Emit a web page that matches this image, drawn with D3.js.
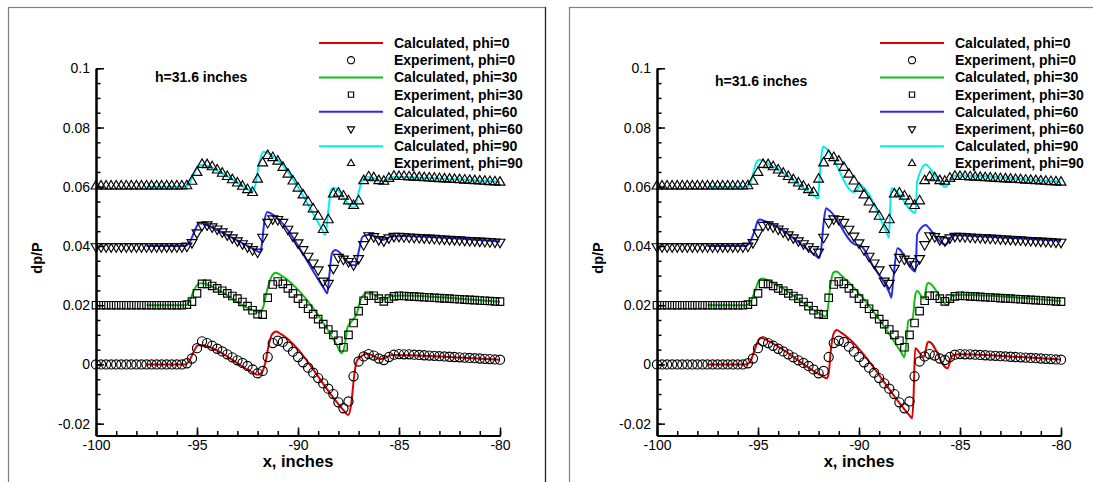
<!DOCTYPE html>
<html><head><meta charset="utf-8">
<script src="https://cdn.jsdelivr.net/npm/d3@7"></script>
<style>body{margin:0;background:#fff;} svg{display:block;font-family:"Liberation Sans",Arial,sans-serif;}</style>
</head><body>
<svg id="c" width="1093" height="482"></svg>
<script>
const xTicks = [-100,-95,-90,-85,-80];
const xTickLabels = ["-100","-95","-90","-85","-80"];
const yTicks = [-0.02,0,0.02,0.04,0.06,0.08,0.1];
const yTickLabels = ["-0.02","0","0.02","0.04","0.06","0.08","0.1"];
const phis = [0,30,60,90];
const legendLabels = ["Calculated, phi=0","Experiment, phi=0","Calculated, phi=30","Experiment, phi=30",
  "Calculated, phi=60","Experiment, phi=60","Calculated, phi=90","Experiment, phi=90"];
const annotation = "h=31.6 inches";
const xTitle = "x, inches";
const yTitle = "dp/P";

const expX = [-100,-99.75,-99.5,-99.25,-99,-98.75,-98.5,-98.25,-98,-97.75,-97.5,-97.25,-97,-96.75,-96.5,-96.25,-96,-95.75,
  -95.5,-95.25,-95,-94.75,-94.5,-94.25,-94,-93.75,-93.5,-93.25,-93,-92.75,-92.5,-92.25,-92,-91.75,-91.5,-91.25,-91,-90.75,
  -90.5,-90.25,-90,-89.75,-89.5,-89.25,-89,-88.75,-88.5,-88.25,-88,-87.75,-87.5,-87.25,-87,-86.75,-86.5,-86.25,-86,-85.75,
  -85.5,-85.25,-85,-84.75,-84.5,-84.25,-84,-83.75,-83.5,-83.25,-83,-82.75,-82.5,-82.25,-82,-81.75,-81.5,-81.25,-81,-80.75,
  -80.5,-80.25,-80];

const expPhi0 = [0,0,0,0,0,0,0,0,0,0,0,0,0,0,0,0,0,0,
  0.0004,0.0020,0.0055,0.0078,0.0072,0.0063,0.0053,0.0044,0.0034,0.0024,0.0014,0.0005,-0.0005,-0.0017,-0.0030,-0.0022,0.0025,0.0072,0.0080,0.0076,
  0.0060,0.0043,0.0025,0.0007,-0.0011,-0.0028,-0.0046,-0.0064,-0.0082,-0.0100,-0.0128,-0.0148,-0.0125,-0.0040,0.0010,0.0027,0.0035,0.0030,0.0020,0.0015,
  0.0025,0.0033,0.0035,
  0.0034,0.0034,0.0033,0.0032,0.0031,0.0030,0.0029,0.0028,0.0027,0.0026,0.0025,0.0024,0.0023,0.0022,0.0021,0.0020,0.0019,0.0018,0.0017,0.0016];

const expPhi30 = [0.02,0.02,0.02,0.02,0.02,0.02,0.02,0.02,0.02,0.02,0.02,0.02,0.02,0.02,0.02,0.02,0.02,0.02,
  0.0202,0.0212,0.0240,0.0272,0.0272,0.0265,0.0257,0.0249,0.0240,0.0231,0.0222,0.0211,0.0197,0.0183,0.0170,0.0168,0.0225,0.0270,0.0280,0.0272,
  0.0257,0.0240,0.0222,0.0205,0.0188,0.0170,0.0153,0.0136,0.0118,0.0100,0.0080,0.0058,0.0100,0.0140,0.0180,0.0215,0.0232,0.0232,0.0222,0.0213,
  0.0222,0.0230,0.0232,
  0.0231,0.0230,0.0229,0.0228,0.0227,0.0226,0.0225,0.0224,0.0223,0.0222,0.0221,0.0220,0.0219,0.0218,0.0217,0.0216,0.0215,0.0214,0.0213,0.0212];

const expPhi60 = [0.0398,0.0398,0.0398,0.0398,0.0398,0.0398,0.0398,0.0398,0.0398,0.0398,0.0398,0.0398,0.0398,0.0398,0.0398,0.0398,0.0398,0.0398,
  0.0400,0.0412,0.0445,0.0470,0.0472,0.0465,0.0458,0.0448,0.0438,0.0428,0.0418,0.0408,0.0398,0.0388,0.0380,0.0430,0.0480,0.0492,0.0490,0.0480,
  0.0457,0.0434,0.0411,0.0388,0.0366,0.0343,0.0320,0.0282,0.0274,0.0325,0.0362,0.0356,0.0348,0.0337,0.0358,0.0405,0.0435,0.0432,0.0422,0.0418,
  0.0428,0.0433,0.0433,
  0.0432,0.0431,0.0430,0.0429,0.0428,0.0427,0.0426,0.0425,0.0424,0.0423,0.0422,0.0421,0.0420,0.0419,0.0418,0.0417,0.0416,0.0415,0.0414,0.0413];

const expPhi90 = [0.0602,0.0602,0.0602,0.0602,0.0602,0.0602,0.0602,0.0602,0.0602,0.0602,0.0602,0.0602,0.0602,0.0602,0.0602,0.0602,0.0602,0.0602,
  0.0603,0.0618,0.0648,0.0675,0.0674,0.0667,0.0656,0.0645,0.0634,0.0623,0.0612,0.0601,0.0590,0.0580,0.0625,0.0680,0.0705,0.0698,0.0686,0.0665,
  0.0642,0.0619,0.0595,0.0572,0.0548,0.0525,0.0500,0.0455,0.0488,0.0575,0.0578,0.0568,0.0552,0.0536,0.0552,0.0620,0.0633,0.0630,0.0620,0.0618,
  0.0628,0.0635,0.0634,
  0.0634,0.0633,0.0632,0.0631,0.0630,0.0629,0.0628,0.0627,0.0626,0.0625,0.0624,0.0623,0.0622,0.0621,0.0620,0.0619,0.0618,0.0617,0.0616,0.0615];

const calcLeftPhi0 = [[-97.5,0],[-95.6,0],[-95.4,0.0010],[-95.2,0.0038],[-95.0,0.0062],[-94.85,0.0066],[-94.55,0.0062],[-92.3,-0.0025],
  [-92.0,-0.0035],[-91.8,-0.0028],[-91.62,0.0005],[-91.45,0.0065],[-91.3,0.0100],[-91.08,0.0111],[-90.9,0.0105],[-87.7,-0.0158],
  [-87.52,-0.0171],[-87.38,-0.0140],[-87.22,-0.0040],[-87.1,0.0010],[-86.9,0.0026],[-86.6,0.0036],[-86.3,0.0030],[-85.95,0.0018],
  [-85.7,0.0022],[-85.35,0.0032],[-84.5,0.0031],[-82,0.0023],[-80,0.0016]];
const calcLeftPhi30 = [[-97.5,0.02],[-95.6,0.02],[-95.4,0.0210],[-95.15,0.0250],[-94.9,0.0273],[-94.7,0.0274],[-94.5,0.0270],[-92.2,0.0182],
  [-91.9,0.0176],[-91.75,0.0188],[-91.55,0.0245],[-91.3,0.0298],[-91.1,0.0310],[-90.9,0.0303],[-88.1,0.0068],[-87.85,0.0038],
  [-87.7,0.0060],[-87.55,0.0125],[-87.35,0.0145],[-87.1,0.0170],[-86.9,0.0218],[-86.6,0.0240],[-86.3,0.0238],[-86.0,0.0223],
  [-85.8,0.0218],[-85.4,0.0230],[-84.8,0.0233],[-82,0.0222],[-80,0.0212]];
const calcLeftPhi60 = [[-97.5,0.04],[-95.6,0.04],[-95.4,0.0408],[-95.15,0.0445],[-94.9,0.0476],[-94.7,0.0476],[-94.5,0.0470],[-92.1,0.0386],
  [-91.9,0.0379],[-91.8,0.0400],[-91.67,0.0480],[-91.52,0.0515],[-91.35,0.0510],[-88.7,0.0255],[-88.55,0.0240],[-88.45,0.0300],
  [-88.32,0.0375],[-88.15,0.0386],[-87.3,0.0335],[-87.15,0.0336],[-87.0,0.0380],[-86.8,0.0432],[-86.5,0.0438],[-86.2,0.0433],
  [-85.8,0.0420],[-85.4,0.0432],[-84.8,0.0434],[-82,0.0425],[-80,0.0415]];
const calcLeftPhi90 = [[-97.5,0.06],[-95.6,0.06],[-95.4,0.0608],[-95.15,0.0645],[-94.9,0.0672],[-94.7,0.0674],[-94.5,0.0670],[-92.5,0.0592],
  [-92.3,0.0584],[-92.15,0.0596],[-91.95,0.0670],[-91.72,0.0718],[-91.55,0.0715],[-88.8,0.0455],[-88.65,0.0437],[-88.5,0.0520],
  [-88.35,0.0592],[-88.2,0.0596],[-87.35,0.0532],[-87.2,0.0530],[-87.0,0.0580],[-86.8,0.0625],[-86.5,0.0633],[-86.2,0.0628],
  [-85.8,0.0618],[-85.4,0.0632],[-84.8,0.0633],[-82,0.0625],[-80,0.0617]];

const calcRightPhi0 = [[-97.5,0],[-95.6,0],[-95.4,0.0008],[-95.15,0.0052],[-94.95,0.0085],[-94.8,0.0089],[-94.6,0.0083],[-91.8,-0.0040],
  [-91.6,-0.0047],[-91.5,-0.0030],[-91.4,0.0045],[-91.25,0.0105],[-91.1,0.0116],[-90.9,0.0108],[-87.5,-0.0172],[-87.37,-0.0182],
  [-87.3,-0.0110],[-87.22,0.0055],[-86.8,0.0026],[-86.6,0.0074],[-86.54,0.0077],[-85.62,-0.0013],[-85.38,0.0030],[-85.0,0.0034],
  [-82,0.0025],[-80,0.0017]];
const calcRightPhi30 = [[-97.5,0.02],[-95.6,0.02],[-95.4,0.0208],[-95.15,0.0248],[-94.95,0.0284],[-94.8,0.0290],[-94.6,0.0286],[-91.85,0.0168],
  [-91.67,0.0162],[-91.55,0.0185],[-91.42,0.0265],[-91.27,0.0310],[-91.12,0.0314],[-90.9,0.0302],[-87.9,0.0040],[-87.75,0.0024],
  [-87.65,0.0080],[-87.56,0.0148],[-87.35,0.0153],[-87.22,0.0232],[-87.12,0.0248],[-86.8,0.0222],[-86.62,0.0272],[-86.55,0.0275],
  [-85.62,0.0200],[-85.38,0.0232],[-85.0,0.0235],[-82,0.0225],[-80,0.0213]];
const calcRightPhi60 = [[-97.5,0.04],[-95.6,0.04],[-95.42,0.0410],[-95.15,0.0455],[-95.0,0.0486],[-94.9,0.0489],[-94.65,0.0484],[-92.15,0.0368],
  [-91.97,0.0359],[-91.87,0.0390],[-91.75,0.0480],[-91.63,0.0527],[-91.45,0.0519],[-90.2,0.0405],[-90.05,0.0403],[-89.9,0.0400],
  [-89.3,0.0332],[-88.47,0.0238],[-88.4,0.0225],[-88.3,0.0290],[-88.1,0.0392],[-87.2,0.0314],[-87.12,0.0440],[-86.68,0.0471],
  [-86.62,0.0467],[-85.7,0.0404],[-85.33,0.0437],[-85.0,0.0436],[-82,0.0426],[-80,0.0418]];
const calcRightPhi90 = [[-97.5,0.06],[-95.6,0.06],[-95.43,0.0606],[-95.2,0.0655],[-95.05,0.0686],[-94.92,0.0691],[-94.7,0.0685],[-92.2,0.0568],
  [-92.03,0.0560],[-91.96,0.0620],[-91.86,0.0705],[-91.77,0.0736],[-91.6,0.0728],[-90.25,0.0582],[-90.1,0.0590],[-89.92,0.0606],
  [-89.8,0.0600],[-88.6,0.0440],[-88.52,0.0428],[-88.46,0.0520],[-88.4,0.0595],[-87.2,0.0512],[-87.12,0.0618],[-86.68,0.0675],
  [-86.62,0.0672],[-85.7,0.0600],[-85.33,0.0637],[-85.0,0.0638],[-82,0.0627],[-80,0.0617]];

const lineColors = ["#e00000","#10c010","#2a2af0","#00f0f0"];
const markerShapes = ["circle","square","triangleDown","triangleUp"];
const expSeries = [expPhi0, expPhi30, expPhi60, expPhi90];

const svg = d3.select("#c");
const symTypes = {circle:d3.symbolCircle, square:d3.symbolSquare, triangleDown:d3.symbolTriangle, triangleUp:d3.symbolTriangle};
const plotSizes = {circle:66, square:56, triangleDown:42, triangleUp:42};
const legSizes = {circle:40, square:28, triangleDown:22, triangleUp:22};

function drawMarker(g, shape, size, cx, cy) {
  g.append("path")
    .attr("d", d3.symbol().type(symTypes[shape]).size(size)())
    .attr("transform", `translate(${cx},${cy})` + (shape === "triangleDown" ? " rotate(180)" : ""))
    .attr("fill", "none").attr("stroke", "#000").attr("stroke-width", 1.15);
}

function drawPanel(ox, calcs, hx, hy) {
  const x = d3.scaleLinear().domain([-100,-80]).range([96+ox, 500+ox]);
  const y = d3.scaleLinear().domain([-0.024,0.1]).range([435.5, 68.3]);
  const g = svg.append("g");

  g.append("rect").attr("x", 8.5+ox).attr("y", 7.5).attr("width", 537).attr("height", 500)
    .attr("fill","none").attr("stroke","#808080").attr("stroke-width",1.2);

  const mx = g.append("g").attr("transform",`translate(0,${y(-0.024)})`)
    .call(d3.axisBottom(x).tickValues(x.ticks(20)).tickFormat("").tickSizeInner(-4.5).tickSizeOuter(0));
  const my = g.append("g").attr("transform",`translate(${x(-100)},0)`)
    .call(d3.axisLeft(y).tickValues(y.ticks(25)).tickFormat("").tickSizeInner(-4.5).tickSizeOuter(0));
  const ax = g.append("g").attr("transform",`translate(0,${y(-0.024)})`)
    .call(d3.axisBottom(x).tickValues(xTicks).tickFormat((d,i)=>xTickLabels[i]).tickSizeInner(-8).tickSizeOuter(0).tickPadding(5));
  const ay = g.append("g").attr("transform",`translate(${x(-100)},0)`)
    .call(d3.axisLeft(y).tickValues(yTicks).tickFormat((d,i)=>yTickLabels[i]).tickSizeInner(-8).tickSizeOuter(0).tickPadding(6));
  [mx,my,ax,ay].forEach(a => {
    a.attr("font-family", null).attr("font-size", 14);
    a.selectAll(".domain").attr("stroke","#000").attr("stroke-width",2);
    a.selectAll(".tick line").attr("stroke","#000").attr("stroke-width",1.5);
    a.selectAll(".tick text").attr("fill","#000");
  });

  const line = d3.line().x(d=>x(d[0])).y(d=>y(d[1])).curve(d3.curveMonotoneX);
  calcs.forEach((c,i) => {
    g.append("path").attr("d", line(c)).attr("fill","none")
      .attr("stroke", lineColors[i]).attr("stroke-width", 2);
  });
  expSeries.forEach((s,i) => {
    const mg = g.append("g");
    s.forEach((v,j) => drawMarker(mg, markerShapes[i], plotSizes[markerShapes[i]], x(expX[j]), y(v)));
  });

  g.append("text").attr("x", hx+ox).attr("y", hy).attr("font-size",14).attr("font-weight","bold").text(annotation);

  const lg = g.append("g");
  legendLabels.forEach((lab,k) => {
    const ry = 43 + k*17.2;
    const si = Math.floor(k/2);
    if (k % 2 === 0) {
      lg.append("line").attr("x1",319+ox).attr("x2",383+ox).attr("y1",ry).attr("y2",ry)
        .attr("stroke", lineColors[si]).attr("stroke-width",2);
    } else {
      drawMarker(lg, markerShapes[si], legSizes[markerShapes[si]], 351+ox, ry);
    }
    lg.append("text").attr("x",394+ox).attr("y",ry+5).attr("font-size",14).attr("font-weight","bold").text(lab);
  });

  g.append("text").attr("x",298+ox).attr("y",467).attr("text-anchor","middle")
    .attr("font-size",16.5).attr("font-weight","bold").text(xTitle);
  g.append("text").attr("transform",`translate(${37+ox},258) rotate(-90)`).attr("text-anchor","middle")
    .attr("dy","0.35em").attr("font-size",14.5).attr("font-weight","bold").text(yTitle);
}

drawPanel(0, [calcLeftPhi0, calcLeftPhi30, calcLeftPhi60, calcLeftPhi90], 155, 82);
drawPanel(561, [calcRightPhi0, calcRightPhi30, calcRightPhi60, calcRightPhi90], 154, 86);
svg.append("line").attr("x1",545.5).attr("x2",545.5).attr("y1",7).attr("y2",482).attr("stroke","#222").attr("stroke-width",1.2);
</script>
</body></html>
